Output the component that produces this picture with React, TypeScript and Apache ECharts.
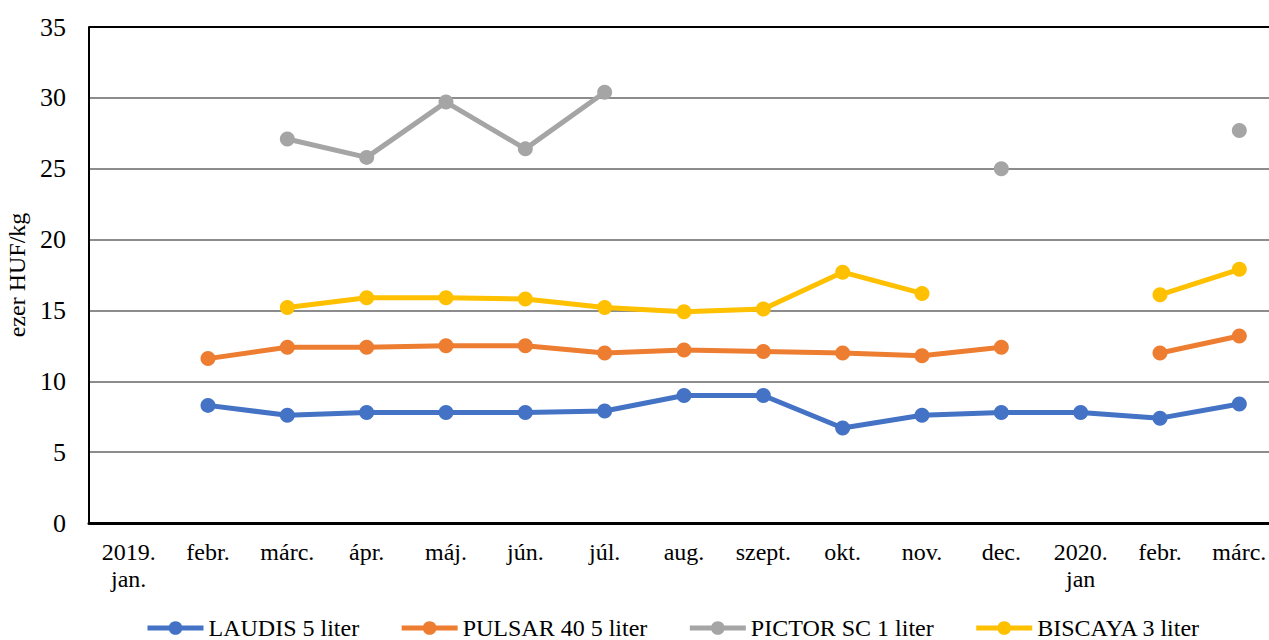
import React, { useEffect, useRef } from "react";
import * as echarts from "echarts";

const categories = [
  "2019.\njan.", "febr.", "márc.", "ápr.", "máj.", "jún.", "júl.", "aug.",
  "szept.", "okt.", "nov.", "dec.", "2020.\njan", "febr.", "márc.",
];
const laudis = [null, 8.3, 7.6, 7.8, 7.8, 7.8, 7.9, 9.0, 9.0, 6.7, 7.6, 7.8, 7.8, 7.4, 8.4];
const pulsar = [null, 11.6, 12.4, 12.4, 12.5, 12.5, 12.0, 12.2, 12.1, 12.0, 11.8, 12.4, null, 12.0, 13.2];
const pictor = [null, null, 27.1, 25.8, 29.7, 26.4, 30.4, null, null, null, null, 25.0, null, null, 27.7];
const biscaya = [null, null, 15.2, 15.9, 15.9, 15.8, 15.2, 14.9, 15.1, 17.7, 16.2, null, null, 16.1, 17.9];
const seriesNames = ["LAUDIS 5 liter", "PULSAR 40 5 liter", "PICTOR SC 1 liter", "BISCAYA 3 liter"];
const seriesColors = ["#4472C4", "#ED7D31", "#A5A5A5", "#FFC000"];
const yTicks = { min: 0, max: 35, interval: 5 };
const yTitle = "ezer HUF/kg";

const FONT = "'Liberation Serif', 'Times New Roman', serif";

export default function App() {
  const ref = useRef<HTMLDivElement>(null);
  useEffect(() => {
    document.body.style.margin = "0";
    document.body.style.overflow = "hidden";
    if (!ref.current) return;
    const chart = echarts.init(ref.current, undefined, { renderer: "svg" });
    const data = [laudis, pulsar, pictor, biscaya];
    chart.setOption({
      animation: false,
      backgroundColor: "#fff",
      textStyle: { fontFamily: FONT, color: "#000" },
      grid: {
        left: 89,
        top: 27,
        width: 1190,
        height: 496,
        containLabel: false,
        outerBoundsMode: "none",
      },
      legend: {
        left: 140,
        top: 611,
        itemWidth: 56,
        itemHeight: 17,
        itemGap: 40,
        lineStyle: { width: 5 },
        textStyle: { fontFamily: FONT, fontSize: 24, color: "#000" },
        data: seriesNames,
      },
      xAxis: {
        type: "category",
        data: categories,
        boundaryGap: true,
        axisLine: { show: true, lineStyle: { color: "#000", width: 3 } },
        axisTick: { show: false },
        axisLabel: {
          fontFamily: FONT,
          fontSize: 24,
          color: "#000",
          lineHeight: 27,
          margin: 15,
          interval: 0,
          hideOverlap: false,
        },
        splitLine: { show: false },
      },
      yAxis: {
        type: "value",
        min: yTicks.min,
        max: yTicks.max,
        interval: yTicks.interval,
        name: yTitle,
        nameLocation: "middle",
        nameRotate: 90,
        nameGap: 58,
        nameTextStyle: { fontFamily: FONT, fontSize: 24, color: "#000" },
        axisLine: { show: true, lineStyle: { color: "#000", width: 2 } },
        axisTick: { show: false },
        axisLabel: { fontFamily: FONT, fontSize: 26, color: "#000", margin: 23 },
        splitLine: {
          show: true,
          lineStyle: {
            color: ["#000", "#8c8c8c", "#8c8c8c", "#8c8c8c", "#8c8c8c", "#8c8c8c", "#8c8c8c", "#000"],
            width: 2,
          },
        },
      },
      series: seriesNames.map((name, i) => ({
        name,
        type: "line",
        data: data[i],
        symbol: "circle",
        symbolSize: 15,
        showSymbol: true,
        showAllSymbol: true,
        connectNulls: false,
        lineStyle: { color: seriesColors[i], width: 5 },
        itemStyle: { color: seriesColors[i] },
        emphasis: { disabled: true },
      })),
    });
    return () => chart.dispose();
  }, []);
  return <div ref={ref} style={{ width: 1269, height: 640 }} />;
}
